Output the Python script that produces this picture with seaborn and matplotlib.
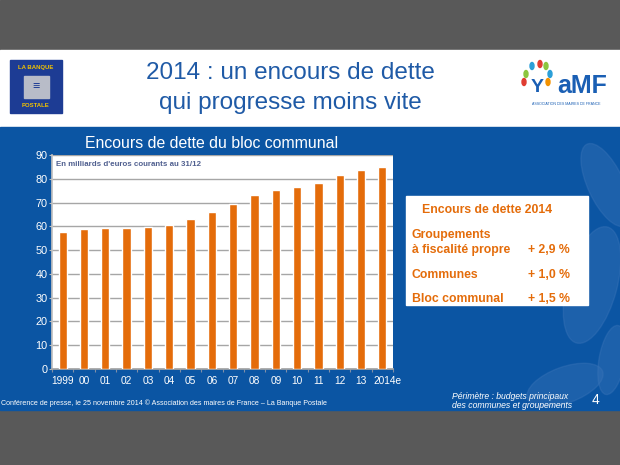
import matplotlib
matplotlib.use("Agg")
import matplotlib.pyplot as plt
import matplotlib.transforms as mtransforms
import seaborn as sns
import numpy as np
import pandas as pd
from matplotlib.patches import Rectangle, Ellipse

years = ["1999", "00", "01", "02", "03", "04", "05", "06", "07",
         "08", "09", "10", "11", "12", "13", "2014e"]
encours = [57.7, 58.9, 59.3, 59.3, 59.8, 60.7, 63.1, 66.0, 69.5,
           73.0, 75.1, 76.4, 78.4, 81.7, 83.7, 85.1]
y_ticks = [0, 10, 20, 30, 40, 50, 60, 70, 80, 90]

box_rows = [("Communes", "+ 1,0 %"), ("Bloc communal", "+ 1,5 %")]

BLUE = "#0b55a3"
GREY = "#595959"
ORANGE = "#e46c0a"

sns.set_theme(style="white")
plt.rcParams['font.family'] = ['Liberation Sans', 'DejaVu Sans']

W, H = 620, 465
fig = plt.figure(figsize=(6.2, 4.65), dpi=100)

# background canvas in pixel coordinates
bg = fig.add_axes([0, 0, 1, 1])
bg.set_xlim(0, W)
bg.set_ylim(H, 0)
bg.axis("off")
bg.add_patch(Rectangle((0, 0), W, H, color=GREY))
bg.add_patch(Rectangle((0, 50), W, 78, color="white"))
bg.add_patch(Rectangle((0, 127), W, 283, color=BLUE))

# faint leaf shapes on the right
for (cx, cy, w, h, a) in [(606, 185, 36, 90, -25), (592, 285, 50, 120, 15),
                          (565, 385, 80, 36, -20), (612, 360, 26, 70, 10)]:
    bg.add_patch(Ellipse((cx, cy), w, h, angle=a, color="#3a74b8", alpha=0.4))

# La Banque Postale logo
bg.add_patch(Rectangle((10, 60), 52, 53, color="#1d3c94"))
bg.add_patch(Rectangle((24, 76), 25, 22, color="#b8bcc8"))
bg.text(36, 68, "LA BANQUE", color="#f2c200", fontsize=4.3, fontweight="bold",
        ha="center", va="center")
bg.text(36, 105, "POSTALE", color="#f2c200", fontsize=4.3, fontweight="bold",
        ha="center", va="center")
bg.text(36, 87, "≡", color="#1d3c94", fontsize=9, fontweight="bold",
        ha="center", va="center")

# AMF logo
for (cx, cy, c) in [(532, 66, "#2a9fd8"), (540, 64, "#e03c31"), (546, 66, "#8cc63f"),
                    (526, 74, "#8cc63f"), (550, 74, "#2a9fd8"), (524, 82, "#e03c31"),
                    (548, 82, "#f39200")]:
    bg.add_patch(Ellipse((cx, cy), 4, 7, color=c))
bg.text(537, 88, "Y", color="#1a5fb4", fontsize=14, fontweight="bold",
        ha="center", va="center")
bg.text(582, 86, "aMF", color="#1a5fb4", fontsize=18, fontweight="bold",
        ha="center", va="center")
bg.text(566, 104, "ASSOCIATION DES MAIRES DE FRANCE", color="#1a5fb4",
        fontsize=2.6, ha="center", va="center")

# slide title
bg.text(290, 73, "2014 : un encours de dette", color="#1f5aa6", fontsize=17.5,
        ha="center", va="center")
bg.text(290, 103, "qui progresse moins vite", color="#1f5aa6", fontsize=17.5,
        ha="center", va="center")

# chart title
bg.text(212, 143, "Encours de dette du bloc communal", color="white",
        fontsize=11.4, ha="center", va="center")

# summary box
bg.add_patch(Rectangle((406, 196), 182, 109, color="white"))
bg.text(422, 210, "Encours de dette 2014", color=ORANGE, fontsize=8.8,
        fontweight="bold", va="center")
bg.text(412, 235, "Groupements", color=ORANGE, fontsize=8.8,
        fontweight="bold", va="center")
bg.text(412, 250, "à fiscalité propre", color=ORANGE, fontsize=8.8,
        fontweight="bold", va="center")
bg.text(528, 250, "+ 2,9 %", color=ORANGE, fontsize=8.8,
        fontweight="bold", va="center")
for i, (lab, val) in enumerate(box_rows):
    yy = 275 + i * 24
    bg.text(412, yy, lab, color=ORANGE, fontsize=8.8, fontweight="bold", va="center")
    bg.text(528, yy, val, color=ORANGE, fontsize=8.8, fontweight="bold", va="center")

# footer
bg.text(1, 403, "Conférence de presse, le 25 novembre 2014 © Association des maires de France – La Banque Postale",
        color="white", fontsize=5.1, va="center")
bg.text(452, 396, "Périmètre : budgets principaux", color="white", fontsize=6.2,
        style="italic", va="center")
bg.text(452, 405, "des communes et groupements", color="white", fontsize=6.2,
        style="italic", va="center")
bg.text(596, 400, "4", color="white", fontsize=10, ha="center", va="center")

# bar chart
ax = fig.add_axes([52 / W, (H - 369) / H, 341 / W, 214 / H])
df = pd.DataFrame({"year": years, "encours": encours})
sns.barplot(data=df, x="year", y="encours", color=ORANGE, saturation=1,
            width=0.39, ax=ax, zorder=3)
ax.set_facecolor("white")
ax.set_xlim(-0.5, len(years) - 0.5)
ax.set_ylim(0, 90)
ax.set_yticks(y_ticks)
ax.set_xticks(np.arange(len(years) + 1) - 0.5, minor=True)
ax.yaxis.grid(True, color="#a6a6a6", linewidth=1.0, zorder=0)
ax.set_axisbelow(True)
ax.set_xlabel("")
ax.set_ylabel("")
for s in ["top", "right"]:
    ax.spines[s].set_visible(False)
ax.spines["left"].set_color("#c0c0c0")
ax.spines["bottom"].set_color("#a6a6a6")
ax.tick_params(axis="y", colors="#c0c0c0", labelcolor="white", labelsize=7.8,
               length=2.5, width=0.8, pad=0.8, left=True)
ax.tick_params(axis="x", which="major", labelcolor="white", labelsize=7.3,
               length=0, pad=5)
ax.tick_params(axis="x", which="minor", colors="#7f8fa8", length=2.5, width=0.8,
               bottom=True)
# nudge the last label a few pixels right, as on the slide
last = ax.get_xticklabels()[-1]
last.set_transform(last.get_transform()
                   + mtransforms.ScaledTranslation(5 / 100, 0, fig.dpi_scale_trans))
ax.text(0.012, 0.955, "En milliards d'euros courants au 31/12", transform=ax.transAxes,
        color="#4f5f8f", fontsize=5.7, fontweight="bold", va="center", zorder=5)

fig.savefig("out.png", dpi=100)
